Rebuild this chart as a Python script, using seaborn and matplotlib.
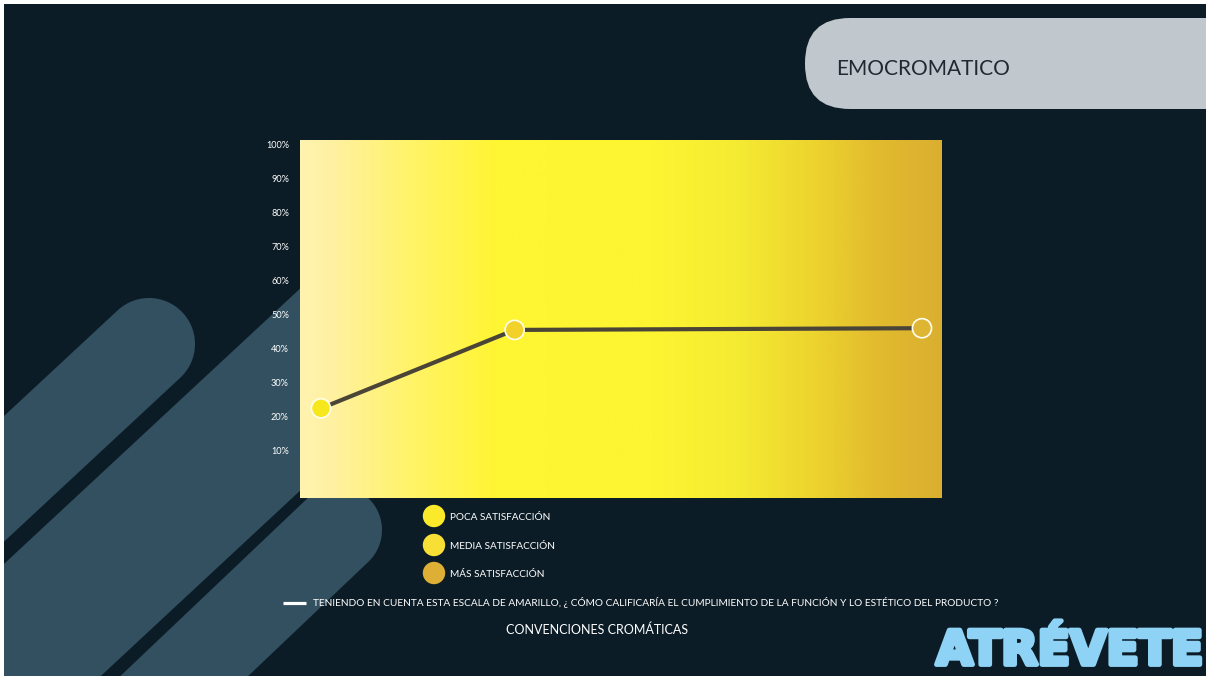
import numpy as np
import pandas as pd
import matplotlib
matplotlib.use("Agg")
import matplotlib.pyplot as plt
from matplotlib.colors import LinearSegmentedColormap
from matplotlib.patches import FancyBboxPatch, Polygon
import matplotlib.patheffects as pe
import seaborn as sns

# ---------------- data ----------------
categories = ["Poca satisfacción", "Media satisfacción", "Más satisfacción"]
legend_labels = ["POCA SATISFACCIÓN", "MEDIA SATISFACCIÓN", "MÁS SATISFACCIÓN"]
x_values = [1.0, 3.9, 10.0]
y_values = [22.5, 45.5, 46.0]
y_ticks = [10, 20, 30, 40, 50, 60, 70, 80, 90, 100]
y_tick_labels = ["10%", "20%", "30%", "40%", "50%", "60%", "70%", "80%", "90%", "100%"]
marker_colors = ["#F7E81E", "#F1D12A", "#DEB634"]
legend_colors = ["#FBEA2A", "#F8DF36", "#DDB035"]
title = "EMOCROMATICO"
caption = ("TENIENDO EN CUENTA ESTA ESCALA DE AMARILLO, ¿ CÓMO CALIFICARÍA EL CUMPLIMIENTO "
           "DE LA FUNCIÓN Y LO ESTÉTICO DEL PRODUCTO ?")
subtitle = "CONVENCIONES CROMÁTICAS"
brand = "ATRÉVETE"

sns.set_theme(style="white")
plt.rcParams["font.family"] = ["Lato", "DejaVu Sans"]

W, H = 1209, 676
fig = plt.figure(figsize=(W / 100, H / 100), dpi=100, facecolor="white")

BG = "#0C1C26"
SLATE = "#32505F"

# background axes in pixel coordinates (y down)
bg = fig.add_axes([4 / W, 0, (W - 7) / W, (H - 4) / H], zorder=0)
bg.set_xlim(4, W - 3)
bg.set_ylim(H, 4)
bg.set_facecolor(BG)
bg.axis("off")
bg.add_patch(plt.Rectangle((0, 0), W, H, color=BG, zorder=0))


def band(cx, cy, width_px, length=900, slope=0.93):
    d = np.array([-1.0, slope])
    d /= np.linalg.norm(d)
    n = np.array([-d[1], d[0]])
    r = width_px / 2
    c = np.array([cx, cy])
    far = c + d * length
    base = np.arctan2(n[1], n[0])
    angs = np.linspace(base, base + np.pi, 60)
    # semicircle on the side opposite to d
    arc = np.array([c + r * np.array([np.cos(a), np.sin(a)]) for a in angs])
    # ensure the arc bulges away from d
    mid = arc[len(arc) // 2]
    if np.dot(mid - c, d) > 0:
        angs = np.linspace(base, base - np.pi, 60)
        arc = np.array([c + r * np.array([np.cos(a), np.sin(a)]) for a in angs])
    p_end1 = arc[-1] + d * length
    p_end0 = arc[0] + d * length
    pts = np.vstack([arc, [p_end1, p_end0]])
    bg.add_patch(Polygon(pts, closed=True, facecolor=SLATE, edgecolor="none",
                         zorder=1))


band(149, 344, 92)
band(390, 306, 148)
band(338, 530, 88, slope=0.95)

# title pill
pill = FancyBboxPatch((805, 18), 600, 91, boxstyle="round,pad=0,rounding_size=45",
                      facecolor="#C0C8CE", edgecolor="none", zorder=2)
bg.add_patch(pill)
bg.text(836, 69, title, fontsize=15, color="#222830", va="center", ha="left",
        zorder=3)

# legend (colour conventions)
leg_y = [516, 545, 573]
bg.scatter([434] * 3, leg_y, s=260, c=legend_colors, edgecolors="none", zorder=3)
for yy, lab in zip(leg_y, legend_labels):
    bg.text(450, yy + 1.5, lab, fontsize=7.2, color="white", va="center", ha="left",
            zorder=3)

# caption
bg.plot([283, 306], [603, 603], color="white", lw=2.3, solid_capstyle="butt", zorder=3)
bg.text(313, 603, caption, fontsize=7.3, color="white", va="center", ha="left", zorder=3)
bg.text(597, 630, subtitle, fontsize=9.0, color="white", va="center", ha="center",
        zorder=3)

# brand
bg.text(1204, 652, brand, fontsize=34, color="#8ED3F6", va="center", ha="right",
        fontweight="heavy", family=["DejaVu Sans"], zorder=3,
        path_effects=[pe.withStroke(linewidth=3.5, foreground="#8ED3F6")])

# ---------------- chart ----------------
left, right, top, bottom = 300, 942, 140, 498
ax = fig.add_axes([left / W, 1 - bottom / H, (right - left) / W, (bottom - top) / H],
                  zorder=2)
xmin, xmax = 0.686, 10.30
ymin, ymax = -3.8, 101.2
ax.set_xlim(xmin, xmax)
ax.set_ylim(ymin, ymax)

grad_colors = [
    (0.00, "#FFF3B0"),
    (0.05, "#FFF1A0"),
    (0.15, "#FFF372"),
    (0.30, "#FFF534"),
    (0.55, "#FDF531"),
    (0.68, "#F5EB33"),
    (0.80, "#EDD42E"),
    (0.90, "#E2BB2E"),
    (1.00, "#DAAF30"),
]
cmap = LinearSegmentedColormap.from_list("emo", grad_colors)
grad = np.linspace(0, 1, 512).reshape(1, -1)
ax.imshow(grad, cmap=cmap, extent=[xmin, xmax, ymin, ymax], aspect="auto",
          zorder=0, interpolation="bicubic")

df = pd.DataFrame({"x": x_values, "y": y_values, "cat": categories})
sns.lineplot(data=df, x="x", y="y", color="#4A4536", lw=3.0, ax=ax, zorder=2,
             sort=False)
sns.scatterplot(data=df, x="x", y="y", hue="cat", palette=marker_colors,
                s=190, edgecolor="#FFFFF0", linewidth=1.2, legend=False, ax=ax,
                zorder=3)

ax.set_yticks(y_ticks)
ax.set_yticklabels(y_tick_labels)
ax.set_xticks([])
ax.tick_params(axis="y", length=0, pad=8, labelsize=6.6, labelcolor="white")
ax.set_xlabel("")
ax.set_ylabel("")
for s in ax.spines.values():
    s.set_visible(False)

fig.savefig("out.png", dpi=100, facecolor="white")
